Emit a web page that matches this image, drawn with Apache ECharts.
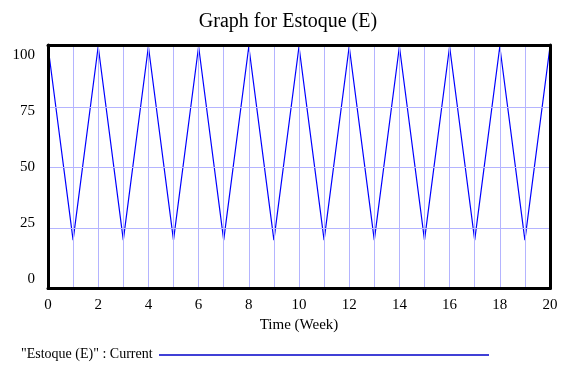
<!DOCTYPE html>
<html><head><meta charset="utf-8">
<script src="https://cdn.jsdelivr.net/npm/echarts@6/dist/echarts.min.js"></script>
<style>html,body{margin:0;padding:0;background:#fff}#c{width:576px;height:384px}</style>
</head><body><div id="c"></div>
<script>
const time = [0,1,2,3,4,5,6,7,8,9,10,11,12,13,14,15,16,17,18,19,20];
const estoque = [100,20,100,20,100,20,100,20,100,20,100,20,100,20,100,20,100,20,100,20,100];
const yTicks = [0,25,50,75,100];
const xTicks = [0,2,4,6,8,10,12,14,16,18,20];
const titleText = 'Graph for Estoque (E)';
const xName = 'Time (Week)';
const legendText = '"Estoque (E)" : Current';

const FONT = '"Liberation Serif", "Times New Roman", serif';
const chart = echarts.init(document.getElementById('c'), null, {renderer:'canvas'});
chart.setOption({
  animation: false,
  backgroundColor: '#fff',
  title: {text: titleText, left: 'center', top: 7,
    textStyle: {fontFamily: FONT, fontSize: 20, fontWeight: 'normal', color: '#000'}},
  grid: {left: 48, right: 26, top: 45, bottom: 95.5, show: false},
  xAxis: [{
    type: 'value', min: 0, max: 20, interval: 1,
    name: xName, nameLocation: 'middle', nameGap: 26,
    nameTextStyle: {fontFamily: FONT, fontSize: 15, color: '#000'},
    axisLine: {show: true, onZero: false, lineStyle: {color: '#000', width: 3}},
    axisTick: {show: false},
    axisLabel: {fontFamily: FONT, fontSize: 15, color: '#000', margin: 9,
      customValues: xTicks},
    splitLine: {show: true, showMinLine: false, showMaxLine: false, lineStyle: {color: '#b4b4ff', width: 1}},
    z: 3
  }, {
    type: 'value', min: 0, max: 20, position: 'top',
    axisLine: {show: true, onZero: false, lineStyle: {color: '#000', width: 3}},
    axisTick: {show: false}, axisLabel: {show: false}, splitLine: {show: false}, z: 3
  }],
  yAxis: [{
    type: 'value', min: 0, max: 100.6, interval: 25,
    axisLine: {show: true, onZero: false, lineStyle: {color: '#000', width: 3}},
    axisTick: {show: false}, axisLabel: {show: false},
    splitLine: {show: true, showMinLine: false, showMaxLine: false, lineStyle: {color: '#b4b4ff', width: 1}},
    z: 3
  }, {
    type: 'value', min: -4.24, max: 104.46, position: 'left',
    axisLine: {show: false, onZero: false}, axisTick: {show: false},
    axisLabel: {fontFamily: FONT, fontSize: 15, color: '#000', margin: 13, customValues: yTicks},
    splitLine: {show: false}
  }, {
    type: 'value', min: 0, max: 100, position: 'right',
    axisLine: {show: true, onZero: false, lineStyle: {color: '#000', width: 3}},
    axisTick: {show: false}, axisLabel: {show: false}, splitLine: {show: false}, z: 3
  }],
  series: [{
    type: 'line', xAxisIndex: 0, yAxisIndex: 0,
    data: time.map((t,i) => [t, estoque[i]]),
    showSymbol: false, symbol: 'none',
    lineStyle: {color: '#0000ff', width: 1.2}, z: 2
  }],
  graphic: [
    {type: 'text', left: 21, top: 347, style: {text: legendText, font: '14px ' + FONT, fill: '#000'}},
    {type: 'line', shape: {x1: 159, y1: 355, x2: 489, y2: 355}, style: {stroke: '#0000c8', lineWidth: 1.3}}
  ]
});
</script></body></html>
